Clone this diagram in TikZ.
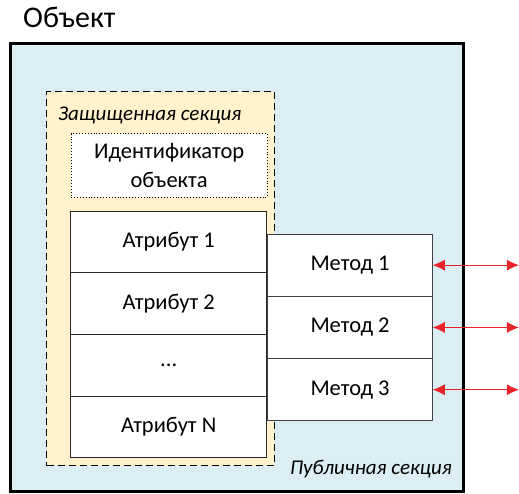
\documentclass[tikz,border=0pt]{standalone}
\usepackage{fontspec}
\setmainfont{Carlito}
\usetikzlibrary{arrows.meta,positioning}

\definecolor{objblue}{HTML}{DAEEF3}
\definecolor{zoneyellow}{HTML}{FFF2CC}
\definecolor{linkred}{HTML}{E8242A}

\begin{document}
\begin{tikzpicture}[
    x=1pt, y=-1pt,
    >={Latex[length=12pt,width=11pt]},
    shell/.style={draw, line width=3pt, fill=objblue, anchor=north west,
                  inner sep=0pt, outer sep=0pt},
    zone/.style={draw, dash pattern=on 7pt off 4pt, line width=0.9pt,
                 fill=zoneyellow, anchor=north west, inner sep=0pt, outer sep=0pt},
    cell/.style={draw=black!85, line width=0.9pt, fill=white, inner sep=0pt,
                 outer sep=0pt, minimum width=196pt, minimum height=61.7pt,
                 font=\fontsize{22.5}{26}\selectfont},
    method/.style={draw=black!75, line width=0.9pt, fill=white, inner sep=0pt,
                   outer sep=0pt, minimum width=165.5pt, minimum height=62.3pt,
                   font=\fontsize{22.5}{26}\selectfont},
    caption/.style={font=\itshape\fontsize{21}{24}\selectfont, inner sep=0pt},
    link/.style={<->, linkred, line width=0.7pt},
  ]
  \useasboundingbox (0,0) rectangle (519,493);

  % containers
  \node[shell, minimum width=452.5pt, minimum height=448pt] (obj) at (10.5,43.5) {};
  \node[anchor=base west, inner sep=0pt, font=\fontsize{30}{34}\selectfont]
    (title) at (23,27) {Объект};
  \node[zone, minimum width=227.5pt, minimum height=374pt] (prot) at (46.7,91.7) {};
  \node[caption, anchor=base west] (protlbl) at (58,120) {Защищенная секция};
  \node[caption, anchor=base east] (publbl) at (452,474) {Публичная секция};

  % identifier
  \node[draw, dotted, line width=0.9pt, fill=white, anchor=north west,
        minimum width=196pt, minimum height=63.4pt, inner sep=0pt, align=center,
        font=\fontsize{22.5}{29}\selectfont] (ident) at (70.7,133.3)
    {Идентификатор\\объекта};

  % attributes
  \node[cell, anchor=north west] (attr1) at (70.7,211) {Атрибут 1};
  \node[cell, below=0pt of attr1] (attr2) {Атрибут 2};
  \node[cell, below=0pt of attr2] (attr3) {...};
  \node[cell, below=0pt of attr3] (attrN) {Атрибут N};

  % methods
  \node[method, anchor=north west] (meth1) at (267.3,234) {Метод 1};
  \node[method, below=0pt of meth1] (meth2) {Метод 2};
  \node[method, below=0pt of meth2] (meth3) {Метод 3};

  % calls from outside
  \foreach \m in {1,2,3} {
    \coordinate[right=86pt of meth\m.east] (out\m);
    \draw[link] (meth\m.east) -- (out\m);
  }

\end{tikzpicture}
\end{document}
